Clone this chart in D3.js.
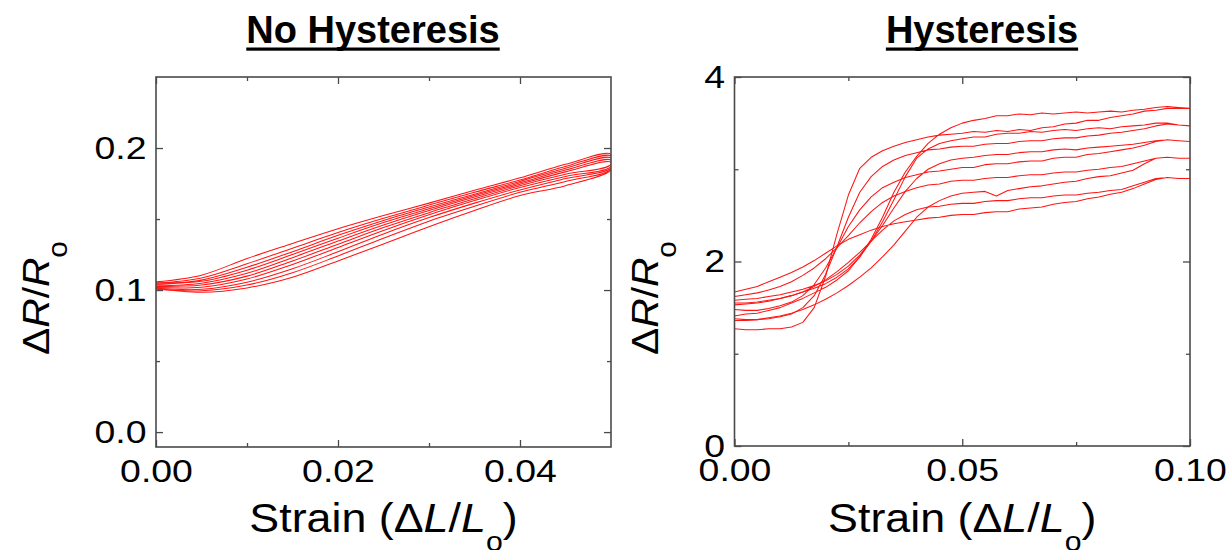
<!DOCTYPE html>
<html>
<head>
<meta charset="utf-8">
<script src="https://cdn.jsdelivr.net/npm/d3@7"></script>
<style>
  html, body { margin: 0; padding: 0; background: #fff; }
  svg { display: block; }
  text { font-family: "Liberation Sans", Arial, Helvetica, sans-serif; fill: #000; }
</style>
</head>
<body>
<svg id="chart" width="1228" height="550"></svg>
<script>
// ---- Left panel: no hysteresis (strain 0 .. 0.05) ----
const leftStrain = [0, 0.005, 0.01, 0.015, 0.02, 0.025, 0.03, 0.035, 0.04, 0.045, 0.05];

// loading sweeps (lower branch of each cycle)
const leftLoad1 = [0.1025, 0.1035, 0.1098, 0.1205, 0.1322, 0.1440, 0.1545, 0.1642, 0.1735, 0.1815, 0.1885];
const leftLoad2 = [0.1018, 0.1020, 0.1078, 0.1180, 0.1300, 0.1420, 0.1530, 0.1630, 0.1722, 0.1800, 0.1870];
const leftLoad3 = [0.1012, 0.1005, 0.1055, 0.1150, 0.1270, 0.1395, 0.1510, 0.1612, 0.1705, 0.1785, 0.1860];
const leftLoad4 = [0.1005, 0.0995, 0.1035, 0.1122, 0.1240, 0.1365, 0.1485, 0.1590, 0.1688, 0.1765, 0.1850];
const leftLoad5 = [0.1011, 0.0985, 0.1015, 0.1090, 0.1205, 0.1325, 0.1446, 0.1560, 0.1665, 0.1735, 0.1846];
// unloading sweeps (upper branch of each cycle)
const leftUnload1 = [0.1058, 0.1105, 0.1222, 0.1328, 0.1432, 0.1525, 0.1612, 0.1702, 0.1790, 0.1885, 0.1958];
const leftUnload2 = [0.1048, 0.1085, 0.1185, 0.1295, 0.1405, 0.1505, 0.1598, 0.1688, 0.1775, 0.1870, 0.1945];
const leftUnload3 = [0.1040, 0.1070, 0.1160, 0.1270, 0.1385, 0.1490, 0.1585, 0.1675, 0.1765, 0.1858, 0.1930];
const leftUnload4 = [0.1052, 0.1062, 0.1140, 0.1250, 0.1365, 0.1475, 0.1572, 0.1665, 0.1755, 0.1845, 0.1915];
const leftUnload5 = [0.1030, 0.1048, 0.1118, 0.1228, 0.1345, 0.1458, 0.1560, 0.1655, 0.1745, 0.1832, 0.1900];

const leftXMajor = [0, 0.02, 0.04];
const leftXMinor = [0.01, 0.03];
const leftXLabels = ["0.00", "0.02", "0.04"];
const leftYMajor = [0, 0.1, 0.2];
const leftYMinor = [0.05, 0.15];
const leftYLabels = ["0.0", "0.1", "0.2"];

// ---- Right panel: hysteresis (strain 0 .. 0.10, sampled every 0.0025) ----
const rightStrain = [0, 0.0025, 0.005, 0.0075, 0.01, 0.0125, 0.015, 0.0175, 0.02, 0.0225,
  0.025, 0.0275, 0.03, 0.0325, 0.035, 0.0375, 0.04, 0.0425, 0.045, 0.0475,
  0.05, 0.0525, 0.055, 0.0575, 0.06, 0.0625, 0.065, 0.0675, 0.07, 0.0725,
  0.075, 0.0775, 0.08, 0.0825, 0.085, 0.0875, 0.09, 0.0925, 0.095, 0.0975, 0.1];

const rightLoad1 = [1.41, 1.43, 1.44, 1.47, 1.50, 1.55, 1.60, 1.66, 1.72, 1.80,
  1.90, 2.05, 2.24, 2.48, 2.75, 2.97, 3.14, 3.28, 3.38, 3.45,
  3.50, 3.53, 3.55, 3.58, 3.58, 3.60, 3.59, 3.61, 3.60, 3.61,
  3.62, 3.61, 3.62, 3.63, 3.62, 3.64, 3.65, 3.67, 3.68, 3.67, 3.66];
const rightUnload1 = [1.27, 1.26, 1.26, 1.27, 1.27, 1.29, 1.34, 1.50, 1.84, 2.30,
  2.72, 3.01, 3.13, 3.20, 3.25, 3.29, 3.32, 3.35, 3.37, 3.38,
  3.39, 3.41, 3.40, 3.42, 3.41, 3.43, 3.42, 3.45, 3.46, 3.49,
  3.50, 3.53, 3.53, 3.56, 3.58, 3.60, 3.63, 3.64, 3.66, 3.66, 3.66];
const rightLoad2 = [1.53, 1.54, 1.55, 1.57, 1.60, 1.63, 1.67, 1.71, 1.76, 1.83,
  1.92, 2.05, 2.22, 2.43, 2.67, 2.92, 3.12, 3.22, 3.28, 3.31,
  3.33, 3.35, 3.35, 3.38, 3.39, 3.39, 3.41, 3.40, 3.42, 3.43,
  3.42, 3.44, 3.45, 3.44, 3.46, 3.47, 3.48, 3.50, 3.50, 3.48, 3.47];
const rightUnload2 = [1.38, 1.37, 1.37, 1.38, 1.40, 1.43, 1.50, 1.63, 1.86, 2.16,
  2.48, 2.75, 2.92, 3.03, 3.10, 3.15, 3.18, 3.21, 3.22, 3.24,
  3.25, 3.25, 3.27, 3.28, 3.28, 3.30, 3.31, 3.31, 3.33, 3.34,
  3.34, 3.36, 3.37, 3.39, 3.40, 3.42, 3.44, 3.47, 3.49, 3.48, 3.47];
const rightLoad3 = [1.58, 1.59, 1.60, 1.62, 1.64, 1.67, 1.70, 1.74, 1.79, 1.86,
  1.95, 2.07, 2.22, 2.39, 2.58, 2.76, 2.90, 3.00, 3.06, 3.10,
  3.12, 3.13, 3.15, 3.16, 3.16, 3.18, 3.19, 3.19, 3.21, 3.22,
  3.21, 3.23, 3.24, 3.25, 3.26, 3.27, 3.29, 3.31, 3.32, 3.31, 3.30];
const rightUnload3 = [1.48, 1.47, 1.47, 1.49, 1.52, 1.56, 1.63, 1.75, 1.93, 2.15,
  2.38, 2.56, 2.70, 2.80, 2.86, 2.91, 2.94, 2.97, 2.98, 3.00,
  3.02, 3.02, 3.05, 3.06, 3.06, 3.08, 3.09, 3.09, 3.12, 3.13,
  3.13, 3.16, 3.17, 3.19, 3.21, 3.23, 3.26, 3.30, 3.32, 3.31, 3.30];
const rightLoad4 = [1.36, 1.36, 1.37, 1.39, 1.41, 1.44, 1.48, 1.53, 1.59, 1.66,
  1.74, 1.83, 1.93, 2.05, 2.18, 2.33, 2.48, 2.59, 2.66, 2.71,
  2.74, 2.75, 2.76, 2.71, 2.77, 2.79, 2.81, 2.82, 2.84, 2.86,
  2.87, 2.90, 2.92, 2.93, 2.96, 2.99, 3.06, 3.12, 3.13, 3.12, 3.12];
const rightUnload4 = [1.62, 1.64, 1.66, 1.69, 1.73, 1.78, 1.85, 1.93, 2.03, 2.15,
  2.28, 2.42, 2.54, 2.64, 2.71, 2.76, 2.80, 2.83, 2.84, 2.87,
  2.88, 2.88, 2.90, 2.91, 2.91, 2.93, 2.94, 2.94, 2.96, 2.97,
  2.97, 2.99, 3.00, 3.02, 3.03, 3.06, 3.09, 3.12, 3.13, 3.12, 3.12];
const rightLoad5 = [1.55, 1.55, 1.56, 1.58, 1.60, 1.63, 1.67, 1.73, 1.80, 1.89,
  1.99, 2.10, 2.22, 2.34, 2.44, 2.51, 2.56, 2.59, 2.60, 2.62,
  2.63, 2.63, 2.65, 2.66, 2.66, 2.68, 2.69, 2.69, 2.71, 2.72,
  2.72, 2.74, 2.75, 2.77, 2.78, 2.82, 2.86, 2.90, 2.91, 2.90, 2.90];
const rightUnload5 = [1.67, 1.70, 1.73, 1.78, 1.83, 1.88, 1.94, 2.01, 2.09, 2.17,
  2.24, 2.29, 2.34, 2.38, 2.41, 2.43, 2.45, 2.47, 2.48, 2.50,
  2.51, 2.51, 2.53, 2.54, 2.54, 2.57, 2.58, 2.59, 2.62, 2.64,
  2.65, 2.68, 2.70, 2.73, 2.75, 2.79, 2.84, 2.89, 2.91, 2.90, 2.90];

const rightXMajor = [0, 0.05, 0.1];
const rightXMinor = [0.025, 0.075];
const rightXLabels = ["0.00", "0.05", "0.10"];
const rightYMajor = [0, 2, 4];
const rightYMinor = [1, 3];
const rightYLabels = ["0", "2", "4"];

// one loop per cycle: out along the loading branch, back along the unloading branch
function cycleLoop(strain, load, unload) {
  const out = strain.map((s, i) => [s, load[i]]);
  const back = strain.map((s, i) => [s, unload[i]]).reverse();
  return out.concat(back);
}

const leftLoops = [
  cycleLoop(leftStrain, leftLoad1, leftUnload1),
  cycleLoop(leftStrain, leftLoad2, leftUnload2),
  cycleLoop(leftStrain, leftLoad3, leftUnload3),
  cycleLoop(leftStrain, leftLoad4, leftUnload4),
  cycleLoop(leftStrain, leftLoad5, leftUnload5)
];
const rightLoops = [
  cycleLoop(rightStrain, rightLoad1, rightUnload1),
  cycleLoop(rightStrain, rightLoad2, rightUnload2),
  cycleLoop(rightStrain, rightLoad3, rightUnload3),
  cycleLoop(rightStrain, rightLoad4, rightUnload4),
  cycleLoop(rightStrain, rightLoad5, rightUnload5)
];

const svg = d3.select("#chart");
const frameColor = "#4a4a4a";
const lineColor = "#ff1414";
const tickFont = 32, tickStretch = 1.17;   // wide-set numerals

function drawPanel(cfg) {
  const x = d3.scaleLinear().domain(cfg.xDomain).range([cfg.left, cfg.right]);
  const y = d3.scaleLinear().domain(cfg.yDomain).range([cfg.bottom, cfg.top]);
  const g = svg.append("g");

  // data curves, clipped to the plot frame
  const clipId = cfg.id + "-clip";
  svg.append("clipPath").attr("id", clipId).append("rect")
    .attr("x", cfg.left).attr("y", cfg.top)
    .attr("width", cfg.right - cfg.left).attr("height", cfg.bottom - cfg.top);

  const line = d3.line().x(d => x(d[0])).y(d => y(d[1])).curve(cfg.curve);
  g.append("g").attr("clip-path", `url(#${clipId})`)
    .selectAll("path").data(cfg.loops).join("path")
    .attr("d", line)
    .attr("fill", "none")
    .attr("stroke", lineColor)
    .attr("stroke-width", 1.05)
    .attr("stroke-linejoin", "round");

  // ticks pointing inward on all four sides
  function tickAxis(axisFn, scale, values, size, transform, labels) {
    const ax = axisFn(scale).tickValues(values).tickSizeInner(size).tickSizeOuter(0);
    if (labels) ax.tickFormat((d, i) => labels[i]);
    else ax.tickFormat("");
    const a = g.append("g").attr("transform", transform).call(ax);
    a.select(".domain").remove();
    a.selectAll("line").attr("stroke", frameColor).attr("stroke-width", 1.3);
    a.selectAll("text").attr("font-size", tickFont).attr("fill", "#000")
      .attr("font-family", '"Liberation Sans", Arial, sans-serif')
      .attr("transform", `scale(${tickStretch},1)`);
    return a;
  }
  const bx = tickAxis(d3.axisBottom, x, cfg.xMajor, -7, `translate(0,${cfg.bottom})`, cfg.xLabels);
  bx.selectAll("text").attr("dy", "0.71em").attr("y", 12);
  tickAxis(d3.axisBottom, x, cfg.xMinor, -4, `translate(0,${cfg.bottom})`);
  tickAxis(d3.axisTop, x, cfg.xMajor, -7, `translate(0,${cfg.top})`);
  tickAxis(d3.axisTop, x, cfg.xMinor, -4, `translate(0,${cfg.top})`);
  const ly = tickAxis(d3.axisLeft, y, cfg.yMajor, -7, `translate(${cfg.left},0)`, cfg.yLabels);
  ly.selectAll("text").attr("x", -9.5 / tickStretch);
  tickAxis(d3.axisLeft, y, cfg.yMinor, -4, `translate(${cfg.left},0)`);
  tickAxis(d3.axisRight, y, cfg.yMajor, -7, `translate(${cfg.right},0)`);
  tickAxis(d3.axisRight, y, cfg.yMinor, -4, `translate(${cfg.right},0)`);

  // frame
  g.append("rect")
    .attr("x", cfg.left).attr("y", cfg.top)
    .attr("width", cfg.right - cfg.left).attr("height", cfg.bottom - cfg.top)
    .attr("fill", "none").attr("stroke", frameColor).attr("stroke-width", 1.6);

  // x-axis title: Strain (ΔL/Lo)
  const xt = g.append("text")
    .attr("transform", `translate(${(cfg.left + cfg.right) / 2},532) scale(1.12,1)`)
    .attr("text-anchor", "middle").attr("font-size", 40);
  xt.append("tspan").text("Strain (\u0394");
  xt.append("tspan").attr("font-style", "italic").text("L");
  xt.append("tspan").text("/");
  xt.append("tspan").attr("font-style", "italic").text("L");
  xt.append("tspan").attr("font-size", 27).attr("dy", 19).text("o");
  xt.append("tspan").attr("dy", -19).text(")");

  // y-axis title: ΔR/Ro
  const yt = g.append("text")
    .attr("transform", `translate(${cfg.yTitleX},298) rotate(-90) scale(1.1,1)`)
    .attr("text-anchor", "middle").attr("font-size", 37);
  yt.append("tspan").text("\u0394");
  yt.append("tspan").attr("font-style", "italic").text("R");
  yt.append("tspan").text("/");
  yt.append("tspan").attr("font-style", "italic").text("R");
  yt.append("tspan").attr("font-size", 27).attr("dy", 18).text("o");

  // underlined bold panel title
  const tt = g.append("text")
    .attr("x", cfg.titleX).attr("y", 43)
    .attr("text-anchor", "middle").attr("font-size", 38).attr("font-weight", "bold")
    .text(cfg.title);
  const w = tt.node().getComputedTextLength();
  g.append("rect")
    .attr("x", cfg.titleX - w / 2).attr("y", 47.5)
    .attr("width", w).attr("height", 3.2).attr("fill", "#000");
}

drawPanel({
  id: "nohyst",
  title: "No Hysteresis", titleX: 373,
  left: 156, right: 611, top: 77, bottom: 447,
  xDomain: [0, 0.05], yDomain: [-0.0105, 0.25],
  xMajor: leftXMajor, xMinor: leftXMinor, xLabels: leftXLabels,
  yMajor: leftYMajor, yMinor: leftYMinor, yLabels: leftYLabels,
  yTitleX: 48.5, loops: leftLoops, curve: d3.curveCatmullRom
});

drawPanel({
  id: "hyst",
  title: "Hysteresis", titleX: 982,
  left: 734.5, right: 1190, top: 77, bottom: 446,
  xDomain: [0, 0.1], yDomain: [0, 4],
  xMajor: rightXMajor, xMinor: rightXMinor, xLabels: rightXLabels,
  yMajor: rightYMajor, yMinor: rightYMinor, yLabels: rightYLabels,
  yTitleX: 658, loops: rightLoops, curve: d3.curveLinear
});
</script>
</body>
</html>
